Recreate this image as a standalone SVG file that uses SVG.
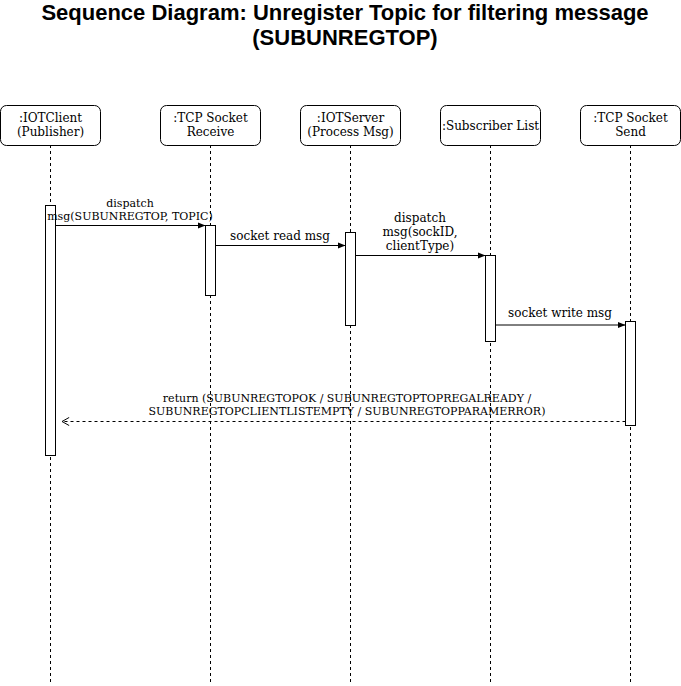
<svg xmlns="http://www.w3.org/2000/svg" width="681" height="686" viewBox="0 0 681 686">
<style>
.title{font-family:"Liberation Sans",Arial,sans-serif;font-weight:bold;font-size:22px;fill:#000;text-anchor:middle}
.box{fill:#fff;stroke:#000;stroke-width:1}
.lbl{font-family:"DejaVu Serif",serif;font-size:12px;fill:#000;text-anchor:middle}
.sm{font-family:"DejaVu Serif",serif;font-size:11px;fill:#000;text-anchor:middle}
.life{stroke:#000;stroke-width:1;stroke-dasharray:3,3;fill:none}
.act{fill:#fff;stroke:#000;stroke-width:1}
.msg{stroke:#000;stroke-width:1;fill:none}
.ret{stroke:#000;stroke-width:1;fill:none;stroke-dasharray:3,3}
</style>
<defs>
<marker id="filled" viewBox="0 0 10 10" refX="10" refY="5" markerWidth="8" markerHeight="8" markerUnits="userSpaceOnUse" orient="auto"><path d="M0,1 L10,5 L0,9 Z" fill="#000"/></marker>
<marker id="open" viewBox="0 0 10 10" refX="9" refY="5" markerWidth="9" markerHeight="9" markerUnits="userSpaceOnUse" orient="auto"><path d="M1,0.5 L9,5 L1,9.5" fill="none" stroke="#000" stroke-width="1.1"/></marker>
</defs>
<rect width="681" height="686" fill="#fff"/>
<text class="title" x="345" y="20">Sequence Diagram: Unregister Topic for filtering message</text>
<text class="title" x="345" y="45">(SUBUNREGTOP)</text>

<g id="lifelines">
<line class="life" x1="50.5" y1="145" x2="50.5" y2="684"/>
<line class="life" x1="210.5" y1="145" x2="210.5" y2="684"/>
<line class="life" x1="350.5" y1="145" x2="350.5" y2="684"/>
<line class="life" x1="490.5" y1="145" x2="490.5" y2="684"/>
<line class="life" x1="630.5" y1="145" x2="630.5" y2="684"/>
</g>

<g id="node-iotclient">
<rect class="box" x="0.5" y="105.5" width="100" height="40" rx="6"/>
<text class="lbl" x="50.5" y="122">:IOTClient</text>
<text class="lbl" x="50.5" y="136">(Publisher)</text>
<rect class="act" x="45.5" y="205.5" width="10" height="250"/>
</g>
<g id="node-tcpreceive">
<rect class="box" x="160.5" y="105.5" width="100" height="40" rx="6"/>
<text class="lbl" x="210.5" y="122">:TCP Socket</text>
<text class="lbl" x="210.5" y="136">Receive</text>
<rect class="act" x="205.5" y="225.5" width="10" height="70"/>
</g>
<g id="node-iotserver">
<rect class="box" x="300.5" y="105.5" width="100" height="40" rx="6"/>
<text class="lbl" x="350.5" y="122">:IOTServer</text>
<text class="lbl" x="350.5" y="136">(Process Msg)</text>
<rect class="act" x="345.5" y="232.5" width="10" height="93"/>
</g>
<g id="node-subscriber">
<rect class="box" x="440.5" y="105.5" width="100" height="40" rx="6"/>
<text class="lbl" x="490.5" y="129.5">:Subscriber List</text>
<rect class="act" x="485.5" y="255.5" width="10" height="86"/>
</g>
<g id="node-tcpsend">
<rect class="box" x="580.5" y="105.5" width="100" height="40" rx="6"/>
<text class="lbl" x="630.5" y="122">:TCP Socket</text>
<text class="lbl" x="630.5" y="136">Send</text>
<rect class="act" x="625.5" y="321.5" width="10" height="104"/>
</g>

<g id="connectors">
<line class="msg" x1="55.5" y1="225.5" x2="205.5" y2="225.5" marker-end="url(#filled)"/>
<text class="sm" x="130" y="207">dispatch</text>
<text class="sm" x="130" y="220">msg(SUBUNREGTOP, TOPIC)</text>

<line class="msg" x1="215.5" y1="245.5" x2="345.5" y2="245.5" marker-end="url(#filled)"/>
<text class="lbl" x="280" y="240">socket read msg</text>

<line class="msg" x1="355.5" y1="255.5" x2="485.5" y2="255.5" marker-end="url(#filled)"/>
<text class="lbl" x="420" y="222">dispatch</text>
<text class="lbl" x="420" y="236">msg(sockID,</text>
<text class="lbl" x="420" y="250">clientType)</text>

<line class="msg" x1="495.5" y1="325" x2="625.5" y2="325" marker-end="url(#filled)"/>
<text class="lbl" x="560" y="317">socket write msg</text>

<line class="ret" x1="625.5" y1="421.5" x2="62" y2="421.5" marker-end="url(#open)"/>
<text class="sm" x="347" y="402">return (SUBUNREGTOPOK / SUBUNREGTOPTOPREGALREADY /</text>
<text class="sm" x="347" y="415">SUBUNREGTOPCLIENTLISTEMPTY / SUBUNREGTOPPARAMERROR)</text>
</g>
</svg>
